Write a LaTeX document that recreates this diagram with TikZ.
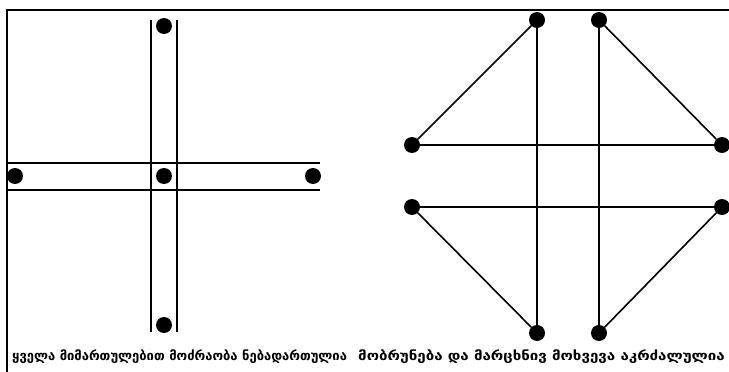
\documentclass[tikz,border=0pt]{standalone}
\usepackage{fontspec}
\newfontfamily\geofont{DejaVu Sans}
\tikzset{
  dot/.style={circle,fill=black,inner sep=0pt,minimum size=16pt},
  road/.style={line width=1.6pt},
  caption/.style={font=\geofont\bfseries\fontsize{13}{15}\selectfont,inner sep=0pt}
}
\begin{document}
\begin{tikzpicture}[x=1pt,y=-1pt]
  \useasboundingbox (0,0) rectangle (729,372);
  % frame
  \draw[road] (7,372) -- (7,10) -- (729,10);
  % left crossing: all directions allowed
  \draw[road] (151,20) -- (151,332);
  \draw[road] (177,20) -- (177,332);
  \draw[road] (7,163) -- (320,163);
  \draw[road] (7,190) -- (320,190);
  \node[dot] (ntop) at (164,26) {};
  \node[dot] (nmid) at (164,176) {};
  \node[dot] (nleft) at (15,176) {};
  \node[dot] (nright) at (313,176) {};
  \node[dot] (nbot) at (164,325) {};
  % right crossing: U-turn and left turn forbidden
  \node[dot] (tl) at (537,20) {};
  \node[dot] (tr) at (599,20) {};
  \node[dot] (lu) at (412,145) {};
  \node[dot] (ru) at (722,145) {};
  \node[dot] (ll) at (412,207) {};
  \node[dot] (rl) at (722,207) {};
  \node[dot] (bl) at (537,333) {};
  \node[dot] (br) at (599,333) {};
  \draw[road] (tl) -- (lu) -- (ru) -- (tr);
  \draw[road] (tl) -- (bl);
  \draw[road] (tr) -- (br);
  \draw[road] (bl) -- (ll) -- (rl) -- (br);
  % captions
  \node[caption,anchor=west] (capl) at (12,357) {ყველა მიმართულებით მოძრაობა ნებადართულია};
  \node[caption,anchor=west] (capr) at (358,357) {\scalebox{1.16}[1]{მობრუნება და მარცხნივ მოხვევა აკრძალულია}};
\end{tikzpicture}
\end{document}
